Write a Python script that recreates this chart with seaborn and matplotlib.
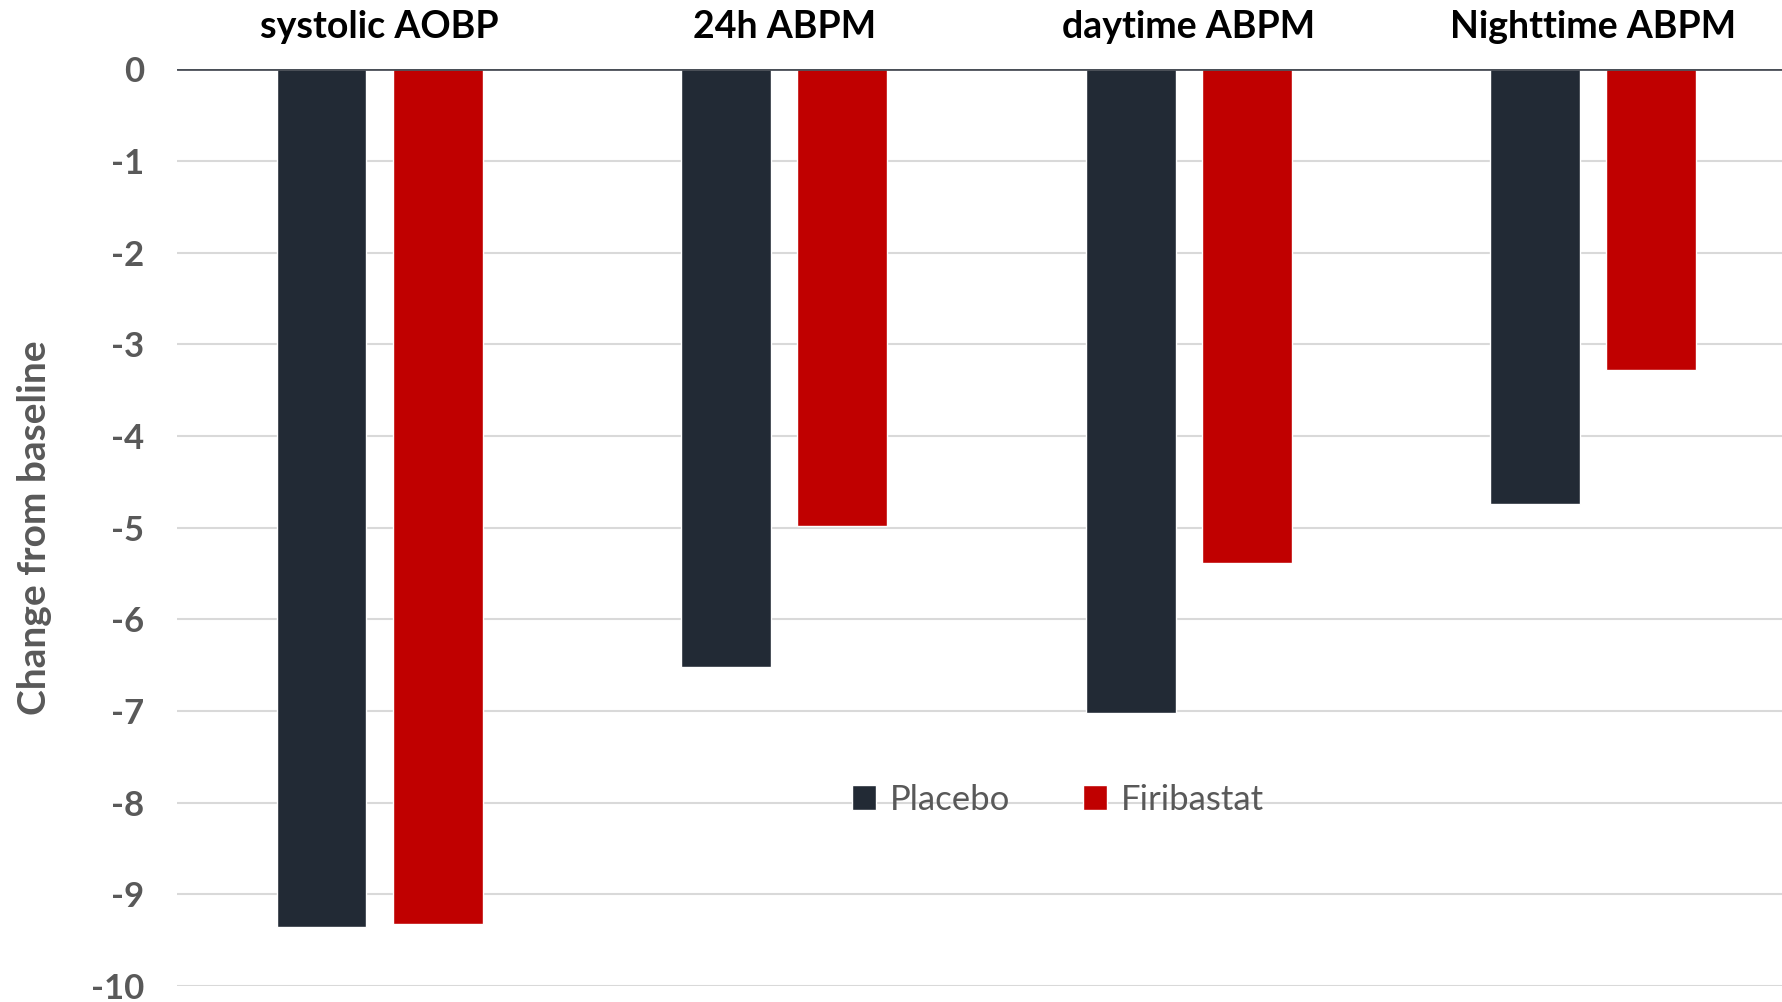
import pandas as pd
import seaborn as sns
from matplotlib import pyplot as plt

# values
categories = ["systolic AOBP", "24h ABPM", "daytime ABPM", "Nighttime ABPM"]
placebo = [-9.35, -6.52, -7.02, -4.74]
firibastat = [-9.32, -4.98, -5.38, -3.28]
groups = ["Placebo", "Firibastat"]
colors = ["#222a35", "#c00000"]

df = pd.DataFrame({
    "category": categories * 2,
    "group": [groups[0]] * 4 + [groups[1]] * 4,
    "change": placebo + firibastat,
})

sns.set_style("white")
plt.rcParams['font.family'] = ['Lato', 'DejaVu Sans']
plt.rcParams['axes.unicode_minus'] = False

fig = plt.figure(figsize=(17.82, 10.02), dpi=100)
# plot area runs a little past the right edge, like the original
ax = fig.add_axes([156 / 1568, 1 - 868 / 882, (1580 - 156) / 1568, (868 - 61) / 882])

sns.barplot(data=df, x="category", y="change", hue="group", order=categories,
            hue_order=groups, palette=colors, width=0.574, gap=0.226,
            saturation=1, ax=ax, zorder=3)

ax.set_ylim(-10, 0)
ax.set_yticks(range(-10, 1))
ax.grid(axis="y", color="#d9d9d9", linewidth=1.5, zorder=0)
ax.axhline(0, color="#4a4f57", linewidth=2, zorder=4)
for s in ax.spines.values():
    s.set_visible(False)

# category labels sit on top of the chart
ax.xaxis.tick_top()
ax.set_xlabel("")
ax.tick_params(axis="x", length=0, pad=18, labelsize=27, labelcolor="black")
for lab in ax.get_xticklabels():
    lab.set_fontweight("bold")
ax.tick_params(axis="y", length=0, pad=24, labelsize=25, labelcolor="#595959")
for lab in ax.get_yticklabels():
    lab.set_fontweight("bold")

ax.set_ylabel("Change from baseline", fontsize=28, fontweight="bold",
              color="#595959", labelpad=28)

ax.legend(loc="center", bbox_to_anchor=(931 / 1568, 1 - 704 / 882),
          bbox_transform=fig.transFigure, ncol=2, frameon=False,
          fontsize=25, labelcolor="#595959", handlelength=0.7, handleheight=0.7,
          handletextpad=0.4, columnspacing=2.1)

fig.savefig("out.png", dpi=100)
